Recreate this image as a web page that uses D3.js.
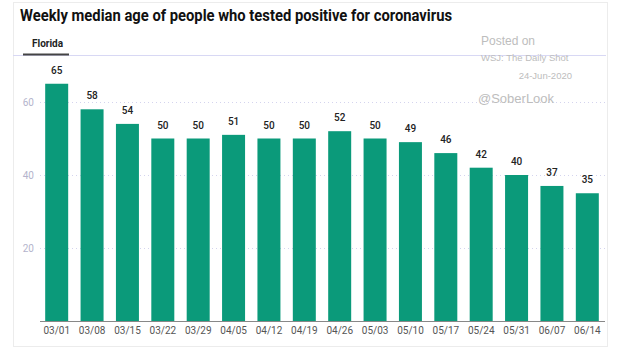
<!DOCTYPE html>
<html><head><meta charset="utf-8">
<script src="https://cdn.jsdelivr.net/npm/d3@7"></script>
<style>body{margin:0;background:#fff;} svg{display:block;}</style>
</head><body>
<svg id="c" width="618" height="356"></svg>
<script>
const categories = ["03/01","03/08","03/15","03/22","03/29","04/05","04/12","04/19","04/26","05/03","05/10","05/17","05/24","05/31","06/07","06/14"];
const medianAge = [65,58,54,50,50,51,50,50,52,50,49,46,42,40,37,35];
const yTicks = [20,40,60];

const svg = d3.select("#c");
const font = "Roboto, 'Noto Sans', sans-serif";

// frame
svg.append("rect").attr("x",13.5).attr("y",2.5).attr("width",594).attr("height",344)
  .attr("fill","none").attr("stroke","#ececec");
svg.append("line").attr("x1",13).attr("x2",606).attr("y1",55.5).attr("y2",55.5).attr("stroke","#d8d8f4");
svg.append("line").attr("x1",23).attr("x2",69).attr("y1",54.5).attr("y2",54.5).attr("stroke","#444").attr("stroke-width",2);

svg.append("text").attr("x",20).attr("y",21).attr("font-family",font).attr("font-weight","bold")
  .attr("font-size",17).attr("fill","#111").attr("textLength",432).attr("lengthAdjust","spacingAndGlyphs")
  .text("Weekly median age of people who tested positive for coronavirus");
svg.append("text").attr("x",32).attr("y",47).attr("font-family",font).attr("font-weight","bold")
  .attr("font-size",10).attr("fill","#222").text("Florida");

const x = d3.scaleBand().domain(categories).range([39,605]).paddingInner(0.35).paddingOuter(0.175);
const y = d3.scaleLinear().domain([0,60]).range([321,102]);

// gridlines
svg.append("g").selectAll("line").data(yTicks).join("line")
  .attr("x1",40).attr("x2",605).attr("y1",d=>y(d)+0.5).attr("y2",d=>y(d)+0.5)
  .attr("stroke","#d4d4ee").attr("stroke-dasharray","1,3");

const yAxis = svg.append("g").attr("transform","translate(40,0)")
  .call(d3.axisLeft(y).tickValues(yTicks).tickSize(0).tickPadding(6));
yAxis.select(".domain").remove();
yAxis.selectAll("text").attr("font-family",font).attr("font-size",10).attr("fill","#b4b4cc");

svg.append("g").selectAll("rect").data(medianAge).join("rect")
  .attr("x",(d,i)=>x(categories[i])).attr("width",x.bandwidth())
  .attr("y",d=>y(d)).attr("height",d=>y(0)-y(d)).attr("fill","#0b9a7a");

svg.append("g").selectAll("text").data(medianAge).join("text")
  .attr("x",(d,i)=>x(categories[i])+x.bandwidth()/2).attr("y",d=>y(d)-10)
  .attr("text-anchor","middle").attr("font-family",font).attr("font-weight","500")
  .attr("font-size",10).attr("fill","#222").text(d=>d);

const xAxis = svg.append("g").attr("transform","translate(0,321)")
  .call(d3.axisBottom(x).tickSize(0).tickPadding(6));
xAxis.select(".domain").attr("stroke","#888").attr("d","M40,0.5H605");
xAxis.selectAll("text").attr("font-family",font).attr("font-size",10).attr("fill","#555");

// watermark
const wm = svg.append("g").attr("font-family","'Liberation Sans', Arial, sans-serif").attr("fill","#bdbdbd");
wm.append("text").attr("x",481).attr("y",45).attr("font-size",12).text("Posted on");
wm.append("text").attr("x",481).attr("y",61).attr("font-size",9.5).text("WSJ: The Daily Shot");
wm.append("text").attr("x",572).attr("y",79).attr("font-size",9.5).attr("text-anchor","end").text("24-Jun-2020");
wm.append("text").attr("x",478).attr("y",103).attr("font-size",13).text("@SoberLook");
</script>
</body></html>
